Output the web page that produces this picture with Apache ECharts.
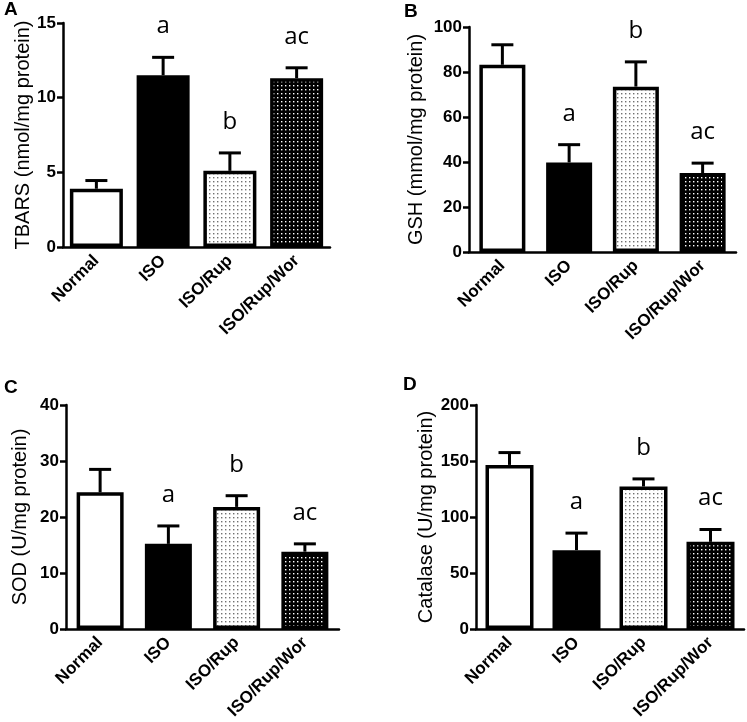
<!DOCTYPE html>
<html>
<head>
<meta charset="utf-8">
<script src="https://cdn.jsdelivr.net/npm/echarts@6/dist/echarts.min.js"></script>
<style>
  html, body { margin: 0; padding: 0; background: #fff; }
  #chart { width: 747px; height: 722px; }
</style>
</head>
<body>
<div id="chart"></div>
<script>
// data (mean and upper error = SEM)
const categories = ['Normal', 'ISO', 'ISO/Rup', 'ISO/Rup/Wor']
const letters = ['', 'a', 'b', 'ac']

const tbarsMean = [3.9, 11.5, 5.1, 11.3]
const tbarsSem = [0.55, 1.2, 1.2, 0.7]
const gshMean = [83.2, 39.8, 73.5, 35.1]
const gshSem = [8.9, 7.9, 11.0, 4.4]
const sodMean = [24.4, 15.2, 21.8, 13.8]
const sodSem = [4.1, 3.2, 2.0, 1.4]
const catMean = [146.5, 70.4, 127.2, 77.8]
const catSem = [11.0, 15.2, 6.8, 11.0]

const yMax = [15, 100, 40, 200]
const yStep = [5, 20, 10, 50]
const yNames = ['TBARS (nmol/mg protein)', 'GSH (mmol/mg protein)', 'SOD (U/mg protein)', 'Catalase (U/mg protein)']
const panelTags = ['A', 'B', 'C', 'D']

// dotted fills
function dots (bg, fg) {
  const c = document.createElement('canvas')
  c.width = 4
  c.height = 4
  const ctx = c.getContext('2d')
  ctx.fillStyle = bg
  ctx.fillRect(0, 0, 4, 4)
  ctx.fillStyle = fg
  ctx.fillRect(1, 1, 1.4, 1.4)
  return c
}
const fills = [
  '#ffffff',
  '#000000',
  { image: dots('#ffffff', '#707070'), repeat: 'repeat' },
  { image: dots('#000000', '#ffffff'), repeat: 'repeat' }
]

const panels = [
  { mean: tbarsMean, sem: tbarsSem, grid: { left: 63, top: 23, width: 267, height: 224 }, bw: 53, gap: 30 },
  { mean: gshMean, sem: gshSem, grid: { left: 469, top: 27, width: 267, height: 225 }, bw: 46, gap: 43 },
  { mean: sodMean, sem: sodSem, grid: { left: 66, top: 405, width: 273, height: 224 }, bw: 47, gap: 36 },
  { mean: catMean, sem: catSem, grid: { left: 476, top: 405, width: 268, height: 224 }, bw: 48, gap: 38 }
]

const grids = []
const xAxes = []
const yAxes = []
const series = []
const texts = []

panels.forEach(function (p, k) {
  grids.push(p.grid)
  xAxes.push({
    type: 'category',
    gridIndex: k,
    data: categories,
    z: 3,
    axisLine: { lineStyle: { color: '#000', width: 2.5 } },
    axisTick: { alignWithLabel: true, length: 7, lineStyle: { color: '#000', width: 2.5 } },
    axisLabel: {
      rotate: 45, interval: 0, margin: 11,
      color: '#000', fontFamily: 'Liberation Sans', fontWeight: 'bold', fontSize: 17
    }
  })
  yAxes.push({
    type: 'value',
    gridIndex: k,
    min: 0,
    max: yMax[k],
    interval: yStep[k],
    name: yNames[k],
    nameLocation: 'middle',
    nameGap: p.gap,
    nameTextStyle: { color: '#000', fontFamily: 'Liberation Sans', fontSize: 20 },
    axisLine: { show: true, lineStyle: { color: '#000', width: 2.5 } },
    axisTick: { show: true, length: 6, lineStyle: { color: '#000', width: 2.5 } },
    axisLabel: { color: '#000', fontFamily: 'Liberation Sans', fontWeight: 'bold', fontSize: 17, margin: 7 },
    splitLine: { show: false }
  })
  series.push({
    type: 'bar',
    xAxisIndex: k,
    yAxisIndex: k,
    barWidth: p.bw,
    silent: true,
    data: p.mean.map(function (v, i) {
      return { value: v, itemStyle: { color: fills[i], borderColor: '#000', borderWidth: 3.5 } }
    })
  })
  series.push({
    type: 'custom',
    xAxisIndex: k,
    yAxisIndex: k,
    silent: true,
    z: 5,
    data: p.mean.map(function (v, i) { return [i, v, v + p.sem[i]] }),
    renderItem: function (params, api) {
      const base = api.coord([api.value(0), api.value(1)])
      const top = api.coord([api.value(0), api.value(2)])
      const ls = { stroke: '#000', lineWidth: 3 }
      const kids = [
        { type: 'line', shape: { x1: base[0], y1: base[1], x2: top[0], y2: top[1] }, style: ls },
        { type: 'line', shape: { x1: top[0] - 11, y1: top[1], x2: top[0] + 11, y2: top[1] }, style: ls }
      ]
      const tag = letters[params.dataIndex]
      if (tag) {
        kids.push({
          type: 'text',
          style: {
            text: tag, x: top[0], y: top[1] - 31,
            align: 'center', verticalAlign: 'middle',
            fill: '#000', font: '24px "Open Sans"'
          }
        })
      }
      return { type: 'group', children: kids }
    }
  })
})

const tagPos = [[4, 0], [404, 2], [4, 378], [403, 375]]
tagPos.forEach(function (t, k) {
  texts.push({
    type: 'text', left: t[0], top: t[1],
    style: { text: panelTags[k], fill: '#000', font: 'bold 19px "Liberation Sans"' }
  })
})

const chart = echarts.init(document.getElementById('chart'))
chart.setOption({
  animation: false,
  backgroundColor: '#fff',
  grid: grids,
  xAxis: xAxes,
  yAxis: yAxes,
  series: series,
  graphic: texts
})
</script>
</body>
</html>
